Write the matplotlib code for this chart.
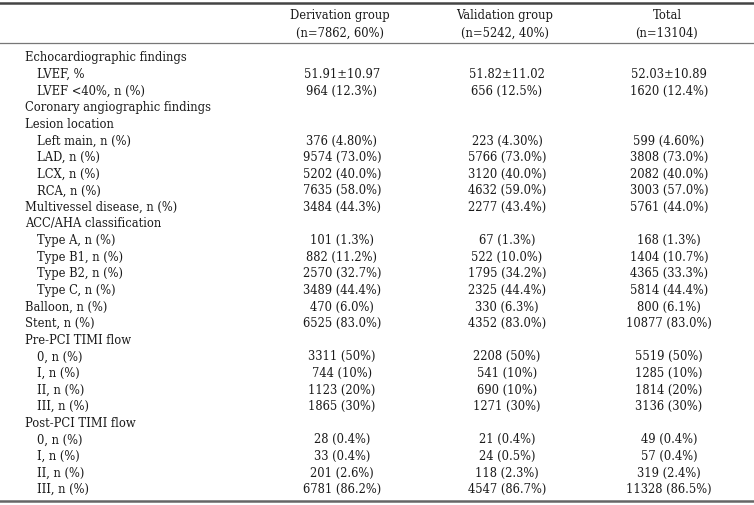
import matplotlib
matplotlib.use("Agg")
import matplotlib.pyplot as plt

# column headers
headers = ["Derivation group\n(n=7862, 60%)",
           "Validation group\n(n=5242, 40%)",
           "Total\n(n=13104)"]

# row labels, indent level (0 = section, 1 = sub item)
labels = ["Echocardiographic findings", "LVEF, %", "LVEF <40%, n (%)",
          "Coronary angiographic findings", "Lesion location",
          "Left main, n (%)", "LAD, n (%)", "LCX, n (%)", "RCA, n (%)",
          "Multivessel disease, n (%)", "ACC/AHA classification",
          "Type A, n (%)", "Type B1, n (%)", "Type B2, n (%)", "Type C, n (%)",
          "Balloon, n (%)", "Stent, n (%)", "Pre-PCI TIMI flow",
          "0, n (%)", "I, n (%)", "II, n (%)", "III, n (%)",
          "Post-PCI TIMI flow",
          "0, n (%)", "I, n (%)", "II, n (%)", "III, n (%)"]
indent = [0, 1, 1, 0, 0, 1, 1, 1, 1, 0, 0, 1, 1, 1, 1, 0, 0, 0,
          1, 1, 1, 1, 0, 1, 1, 1, 1]

derivation = ["", "51.91\u00b110.97", "964 (12.3%)", "", "",
              "376 (4.80%)", "9574 (73.0%)", "5202 (40.0%)", "7635 (58.0%)",
              "3484 (44.3%)", "", "101 (1.3%)", "882 (11.2%)", "2570 (32.7%)",
              "3489 (44.4%)", "470 (6.0%)", "6525 (83.0%)", "",
              "3311 (50%)", "744 (10%)", "1123 (20%)", "1865 (30%)", "",
              "28 (0.4%)", "33 (0.4%)", "201 (2.6%)", "6781 (86.2%)"]
validation = ["", "51.82\u00b111.02", "656 (12.5%)", "", "",
              "223 (4.30%)", "5766 (73.0%)", "3120 (40.0%)", "4632 (59.0%)",
              "2277 (43.4%)", "", "67 (1.3%)", "522 (10.0%)", "1795 (34.2%)",
              "2325 (44.4%)", "330 (6.3%)", "4352 (83.0%)", "",
              "2208 (50%)", "541 (10%)", "690 (10%)", "1271 (30%)", "",
              "21 (0.4%)", "24 (0.5%)", "118 (2.3%)", "4547 (86.7%)"]
total = ["", "52.03\u00b110.89", "1620 (12.4%)", "", "",
         "599 (4.60%)", "3808 (73.0%)", "2082 (40.0%)", "3003 (57.0%)",
         "5761 (44.0%)", "", "168 (1.3%)", "1404 (10.7%)", "4365 (33.3%)",
         "5814 (44.4%)", "800 (6.1%)", "10877 (83.0%)", "",
         "5519 (50%)", "1285 (10%)", "1814 (20%)", "3136 (30%)", "",
         "49 (0.4%)", "57 (0.4%)", "319 (2.4%)", "11328 (86.5%)"]

W, H = 754, 505
fig = plt.figure(figsize=(W / 100, H / 100), dpi=100)
ax = fig.add_axes([0, 0, 1, 1])
ax.set_xlim(0, W)
ax.set_ylim(H, 0)
ax.axis("off")

font = dict(family="DejaVu Serif", fontsize=8.3, color="#1a1a1a")

# rules
ax.axhline(3, color="#444444", lw=1.8)
ax.axhline(43, color="#777777", lw=0.9)
ax.axhline(501, color="#666666", lw=1.8)

col_x = [340, 505, 667]
for x, h in zip(col_x, headers):
    ax.text(x, 24.5, h, ha="center", va="center", linespacing=1.5, **font)

y0, dy = 58, 16.6
for i, lab in enumerate(labels):
    y = y0 + i * dy
    ax.text(25 + 12 * indent[i], y, lab, ha="left", va="center", **font)
    for x, col in zip(col_x, [derivation, validation, total]):
        if col[i]:
            ax.text(x + 2, y, col[i], ha="center", va="center", **font)

fig.savefig("out.png", dpi=100)
